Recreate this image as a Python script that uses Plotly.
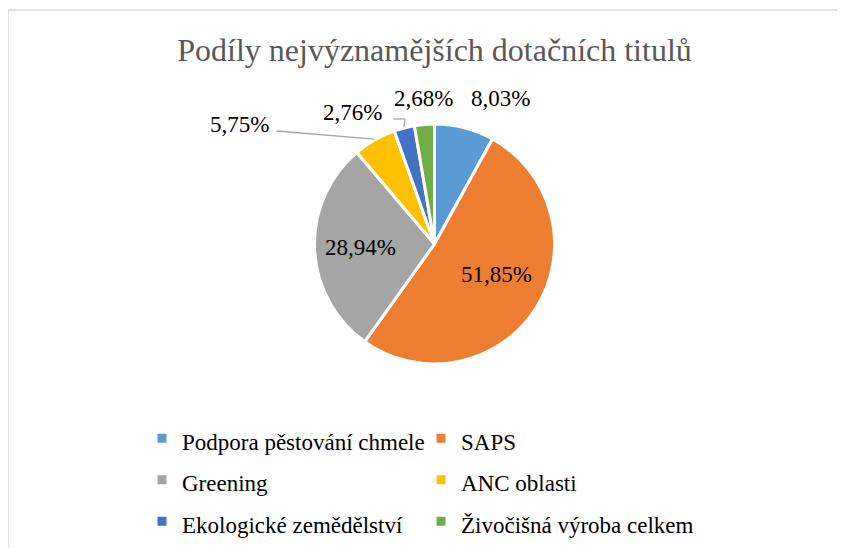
import math
import plotly.graph_objects as go

# ---- data ----
categories = ["Podpora pěstování chmele", "SAPS", "Greening", "ANC oblasti",
              "Ekologické zemědělství", "Živočišná výroba celkem"]
shares = [8.03, 51.85, 28.94, 5.75, 2.76, 2.68]
colors = ["#5B9BD5", "#ED7D31", "#A5A5A5", "#FFC000", "#4472C4", "#70AD47"]
title_text = "Podíly nejvýznamějších dotačních titulů"

# ---- layout constants (figure pixels; page body adds an 8px offset) ----
W, H = 837, 540
ML, MT, PW, PH = 124, 116, 605, 240
MR, MB = W - ML - PW, H - MT - PH
CX, CY = ML + PW / 2, MT + PH / 2
R = min(PW, PH) / 2
FONT = "Liberation Serif"


def fmt(v):
    return f"{v:.2f}".replace(".", ",") + "%"


def px2paper(x, y):
    return (x - ML) / PW, (MT + PH - y) / PH


# label centres as offsets (px) from the pie centre
label_offsets = {0: (66, -145), 1: (62, 30), 2: (-74, 3), 3: (-195, -120),
                 4: (-82, -131), 5: (-11, -145)}
leader = {3: (37, 7), 4: (41, 6)}  # label-side start of leader lines

fig = go.Figure(go.Pie(
    labels=[f'<span style="font-size:23px">{c}</span>' for c in categories],
    values=shares,
    sort=False,
    direction="clockwise",
    rotation=0,
    marker=dict(colors=colors, line=dict(color="white", width=3)),
    textinfo="none",
    hoverinfo="skip",
))

total = sum(shares)
cum = 0.0
annotations = []
shapes = []
for i, v in enumerate(shares):
    mid = (cum + v / 2) / total * 2 * math.pi
    cum += v
    dx, dy = label_offsets[i]
    lx, ly = CX + dx, CY + dy
    ax, ay = px2paper(lx, ly)
    annotations.append(dict(x=ax, y=ay, xref="paper", yref="paper", text=fmt(v),
                            showarrow=False, xanchor="center", yanchor="middle",
                            font=dict(family=FONT, size=23, color="black")))
    if i in leader:
        sx, sy = lx + leader[i][0], ly + leader[i][1]
        ex, ey = CX + (R + 1) * math.sin(mid), CY - (R + 1) * math.cos(mid)
        pts = [(sx, sy)]
        if i == 4:
            pts.append((ex + 1, sy))
        pts.append((ex, ey))
        for (x0, y0), (x1, y1) in zip(pts[:-1], pts[1:]):
            p0, p1 = px2paper(x0, y0), px2paper(x1, y1)
            shapes.append(dict(type="line", xref="paper", yref="paper",
                               x0=p0[0], y0=p0[1], x1=p1[0], y1=p1[1],
                               line=dict(color="#A6A6A6", width=1.3)))

# chart border
b0 = px2paper(0, 2)
b1 = px2paper(844, 560)
shapes.append(dict(type="rect", xref="paper", yref="paper", x0=b0[0], y0=b1[1],
                   x1=b1[0], y1=b0[1], line=dict(color="#D9D9D9", width=1.5)))

fig.update_layout(
    width=W, height=H,
    margin=dict(l=ML, r=MR, t=MT, b=MB, autoexpand=False),
    paper_bgcolor="white", plot_bgcolor="white",
    font=dict(family=FONT, color="black"),
    title=dict(text=title_text, x=0.5, xref="paper", xanchor="center",
               y=1 - 42 / H, yref="container", yanchor="middle",
               font=dict(family=FONT, size=32, color="#595959")),
    showlegend=True,
    legend=dict(orientation="h", x=10 / PW, xanchor="left", y=-0.2018, yanchor="top",
                entrywidth=234, entrywidthmode="pixels",
                font=dict(family=FONT, size=29.6, color="black"),
                bgcolor="rgba(0,0,0,0)"),
    annotations=annotations,
    shapes=shapes,
)

fig.write_html("out.html")
